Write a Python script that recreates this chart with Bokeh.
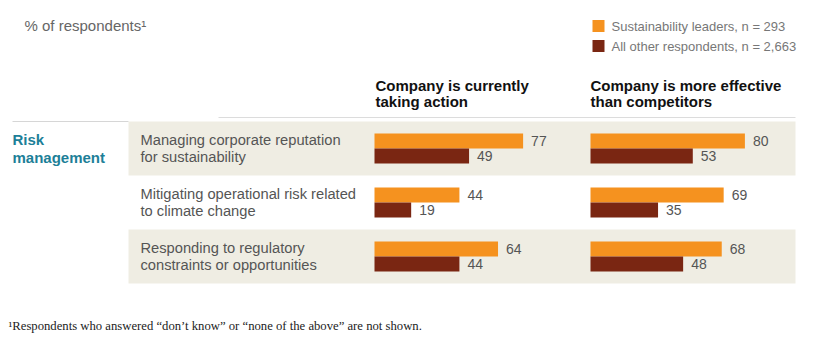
from bokeh.plotting import figure
from bokeh.models import Range1d, ColumnDataSource
from bokeh.transform import dodge
from bokeh.core.properties import value
from bokeh.embed import file_html
from bokeh.resources import INLINE

# ---------------- data ----------------
categories = ["Managing corporate reputation\nfor sustainability",
              "Mitigating operational risk related\nto climate change",
              "Responding to regulatory\nconstraints or opportunities"]
group_label = "Risk\nmanagement"
panel_titles = ["Company is currently\ntaking action",
                "Company is more effective\nthan competitors"]
series_names = ["Sustainability leaders, n = 293",
                "All other respondents, n = 2,663"]
leaders_action = [77, 44, 64]
others_action = [49, 19, 44]
leaders_effective = [80, 69, 68]
others_effective = [53, 35, 48]
y_note = "% of respondents\u00b9"
footnote = "\u00b9Respondents who answered \u201cdon\u2019t know\u201d or \u201cnone of the above\u201d are not shown."

# ---------------- style ----------------
ORANGE = "#f5921f"
DARK = "#7a2612"
BAND = "#efede3"
SANS = "Liberation Sans"
SERIF = "Liberation Serif"

W, H = 815, 354
PX = 1.93          # pixels per percentage point
X0 = 374           # pixel position of first panel origin


def ux(px):
    return (px - X0) / PX


p = figure(width=W, height=H, output_backend="svg", toolbar_location=None,
           x_range=Range1d(ux(0), ux(W)), y_range=Range1d(H, 0),
           min_border=0, min_border_left=0, min_border_right=0,
           min_border_top=0, min_border_bottom=0)
p.xaxis.visible = False
p.yaxis.visible = False
p.xgrid.visible = False
p.ygrid.visible = False
p.outline_line_color = None
p.background_fill_color = "white"
p.border_fill_color = "white"

row_h = 54
row_top = 121
row_centers = [row_top + row_h * (i + 0.5) for i in range(len(categories))]

# background bands (alternate rows)
for i, c in enumerate(row_centers):
    if i % 2 == 0:
        p.quad(left=ux(128), right=ux(795), top=c - row_h / 2, bottom=c + row_h / 2,
               fill_color=BAND, line_color=None)

# rules
p.segment(x0=[ux(218)], y0=[117], x1=[ux(795)], y1=[117], line_color="#dcdcdc", line_width=1)
p.segment(x0=[ux(12)], y0=[121], x1=[ux(128)], y1=[121], line_color="#d6d6d6", line_width=1)

# panels
panels = [(leaders_action, others_action, 0.0),
          (leaders_effective, others_effective, ux(590))]
bar_h = 15
for lead, other, off in panels:
    src = ColumnDataSource(dict(y=row_centers, lead=lead, other=other,
                                lead_txt=[str(v) for v in lead],
                                other_txt=[str(v) for v in other]))
    p.hbar(y=dodge("y", -bar_h / 2), left=off, right=dodge("lead", off), height=bar_h,
           fill_color=ORANGE, line_color=None, source=src)
    p.hbar(y=dodge("y", bar_h / 2), left=off, right=dodge("other", off), height=bar_h,
           fill_color=DARK, line_color=None, source=src)
    p.text(x=dodge("lead", off + 8 / PX), y=dodge("y", -bar_h / 2), text="lead_txt",
           source=src, text_font=value(SANS), text_font_size="14px", text_color="#555555",
           text_baseline="middle", text_align="left")
    p.text(x=dodge("other", off + 8 / PX), y=dodge("y", bar_h / 2), text="other_txt",
           source=src, text_font=value(SANS), text_font_size="14px", text_color="#555555",
           text_baseline="middle", text_align="left")


def multiline(x_px, yc, s, size, lh, color, style="normal", font=SANS):
    lines = s.split("\n")
    n = len(lines)
    ys = [yc + (k - (n - 1) / 2) * lh for k in range(n)]
    p.text(x=[ux(x_px)] * n, y=ys, text=lines, text_font=value(font),
           text_font_size=size, text_font_style=style, text_color=color,
           text_baseline="middle", text_align="left")


# category labels
for c, lab in zip(row_centers, categories):
    multiline(140, c, lab, "14.7px", 16.7, "#555555")

# group label
multiline(12, 148, group_label, "15px", 18, "#1d7f98", style="bold")

# panel titles
multiline(375, 93, panel_titles[0], "15px", 16.5, "#111111", style="bold")
multiline(590, 93, panel_titles[1], "15px", 16.5, "#111111", style="bold")

# legend
leg_y = [25.5, 45.5]
p.scatter(x=[ux(598)] * 2, y=leg_y, marker="square", size=12,
          fill_color=[ORANGE, DARK], line_color=None)
p.text(x=[ux(611)] * 2, y=leg_y, text=series_names, text_font=value(SANS),
       text_font_size="13px", text_color="#777777", text_baseline="middle", text_align="left")

# y note
p.text(x=[ux(24)], y=[25], text=[y_note], text_font=value(SANS), text_font_size="15px",
       text_color="#666666", text_baseline="middle", text_align="left")

# footnote
p.text(x=[ux(8)], y=[325], text=[footnote], text_font=value(SERIF), text_font_size="12.7px",
       text_color="#222222", text_baseline="middle", text_align="left")

open("out.html", "w").write(file_html(p, INLINE))
